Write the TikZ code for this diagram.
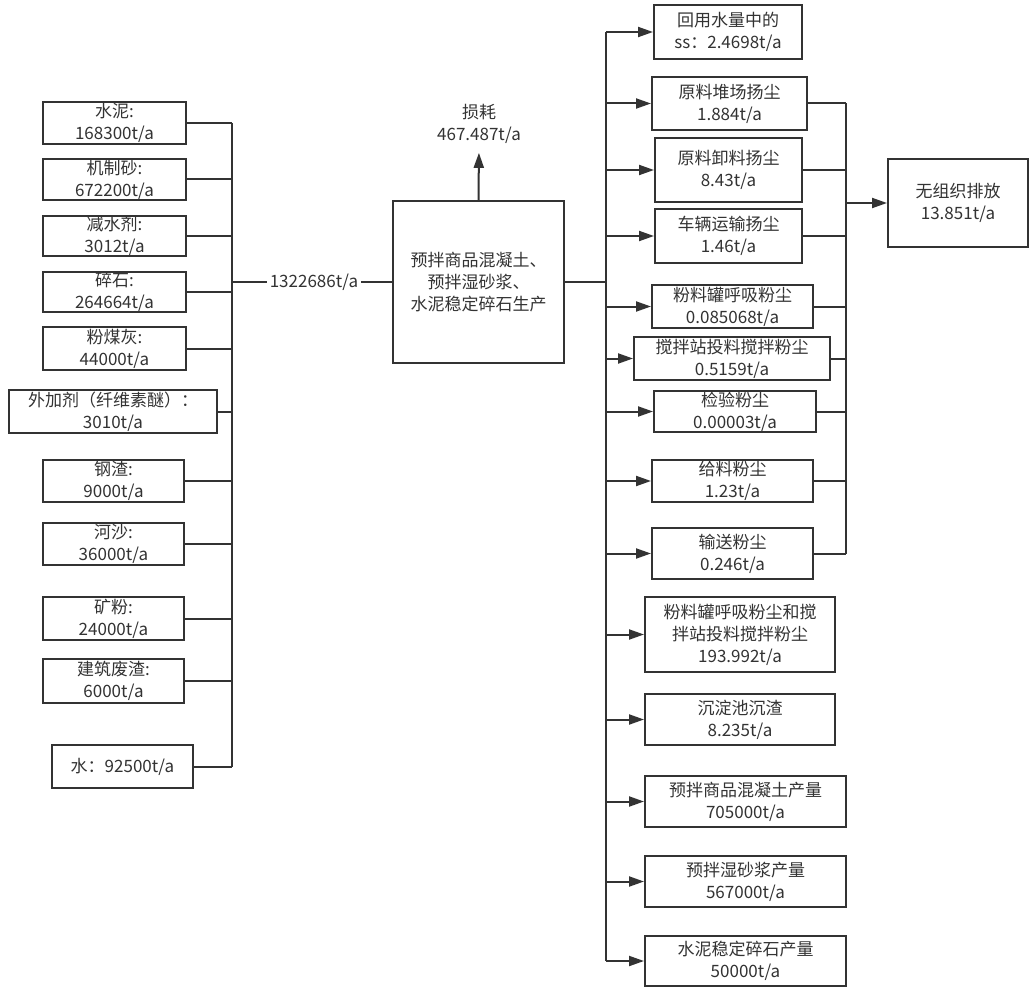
\documentclass[tikz,border=0pt]{standalone}
\usepackage{fontspec}
\setmainfont{Noto Sans CJK SC}
\usetikzlibrary{arrows.meta}
\definecolor{ink}{HTML}{333333}
\tikzset{
  box/.style={draw=ink, line width=2pt, text=ink, align=center, inner sep=0pt,
    font=\fontsize{17}{22}\selectfont},
  bx/.style 2 args={box, minimum width=#1pt, minimum height=#2pt},
  lbl/.style={text=ink, align=center, inner sep=0pt, font=\fontsize{17}{22}\selectfont},
  conn/.style={draw=ink, line width=2pt},
  arr/.style={conn, -{Triangle[length=15pt,width=10pt]}}
}
\begin{document}
\begin{tikzpicture}[x=1pt,y=-1pt]
\useasboundingbox[fill=white] (0,0) rectangle (1030,987);
% left inputs
\node[bx={143}{42}] (s1) at (114.5,123) {水泥:\\168300t/a};
\node[bx={143}{41}] (s2) at (114.5,179.5) {机制砂:\\672200t/a};
\node[bx={143}{40}] (s3) at (114.5,236) {减水剂:\\3012t/a};
\node[bx={143}{40}] (s4) at (114.5,292) {碎石:\\264664t/a};
\node[bx={143}{43}] (s5) at (114.5,348.5) {粉煤灰:\\44000t/a};
\node[bx={208}{43}] (s6) at (113,411.5) {外加剂（纤维素醚）：\\3010t/a};
\node[bx={141}{42}] (s7) at (113.5,481) {钢渣:\\9000t/a};
\node[bx={141}{42}] (s8) at (113.5,544) {河沙:\\36000t/a};
\node[bx={141}{43}] (s9) at (113.5,618.5) {矿粉:\\24000t/a};
\node[bx={141}{44}] (s10) at (113.5,681) {建筑废渣:\\6000t/a};
\node[bx={141}{43}] (s11) at (122.5,766.5) {水：92500t/a};
\coordinate (busLt) at (232,123);
\coordinate (busLb) at (232,767);
\draw[conn] (busLt) -- (busLb);
\foreach \n in {s1,s2,s3,s4,s5,s6,s7,s8,s9,s10,s11}
  \draw[conn] (\n.east) -- (\n.east -| busLt);
% centre
\node[bx={171}{161}] (m) at (478.5,282) {预拌商品混凝土、\\预拌湿砂浆、\\水泥稳定碎石生产};
\node[lbl, inner xsep=3pt] (tot) at (314,282) {1322686t/a};
\draw[conn] (tot.west -| busLt) -- (tot.west);
\draw[conn] (tot.east) -- (m.west);
\node[lbl] (loss) at (479,124) {损耗\\467.487t/a};
\draw[arr, shorten >=9pt] (m.north) -- (loss.south);
% right outputs
\node[bx={148}{54}] (r1) at (728,32) {回用水量中的\\ss：2.4698t/a};
\node[bx={155}{53}] (r2) at (729.5,103.5) {原料堆场扬尘\\1.884t/a};
\node[bx={147}{64}] (r3) at (728.5,170) {原料卸料扬尘\\8.43t/a};
\node[bx={147}{54}] (r4) at (728.5,236) {车辆运输扬尘\\1.46t/a};
\node[bx={161}{43}] (r5) at (732.5,306.5) {粉料罐呼吸粉尘\\0.085068t/a};
\node[bx={196}{43}] (r6) at (732,358.5) {搅拌站投料搅拌粉尘\\0.5159t/a};
\node[bx={162}{41}] (r7) at (735,411.5) {检验粉尘\\0.00003t/a};
\node[bx={161}{42}] (r8) at (732.5,481) {给料粉尘\\1.23t/a};
\node[bx={161}{51}] (r9) at (732.5,553.5) {输送粉尘\\0.246t/a};
\node[bx={190}{75}] (r10) at (740,634.5) {粉料罐呼吸粉尘和搅\\拌站投料搅拌粉尘\\193.992t/a};
\node[bx={190}{51}] (r11) at (740,719.5) {沉淀池沉渣\\8.235t/a};
\node[bx={201}{51}] (r12) at (745.5,801.5) {预拌商品混凝土产量\\705000t/a};
\node[bx={201}{51}] (r13) at (745.5,881.5) {预拌湿砂浆产量\\567000t/a};
\node[bx={201}{50}] (r14) at (745.5,961) {水泥稳定碎石产量\\50000t/a};
\coordinate (busRt) at (606,32);
\coordinate (busRb) at (606,961);
\draw[conn] (busRt) -- (busRb);
\draw[conn] (m.east) -- (m.east -| busRt);
\foreach \n in {r1,r2,r3,r4,r5,r6,r7,r8,r9,r10,r11,r12,r13,r14}
  \draw[arr] (\n.west -| busRt) -- (\n.west);
% collector
\node[bx={140}{88}] (out) at (958,203) {无组织排放\\13.851t/a};
\coordinate (colT) at (846,103.5);
\coordinate (colB) at (846,553.5);
\draw[conn] (colT) -- (colB);
\foreach \n in {r2,r3,r4,r5,r6,r7,r8,r9}
  \draw[conn] (\n.east) -- (\n.east -| colT);
\draw[arr] (out.west -| colT) -- (out.west);
\end{tikzpicture}
\end{document}
